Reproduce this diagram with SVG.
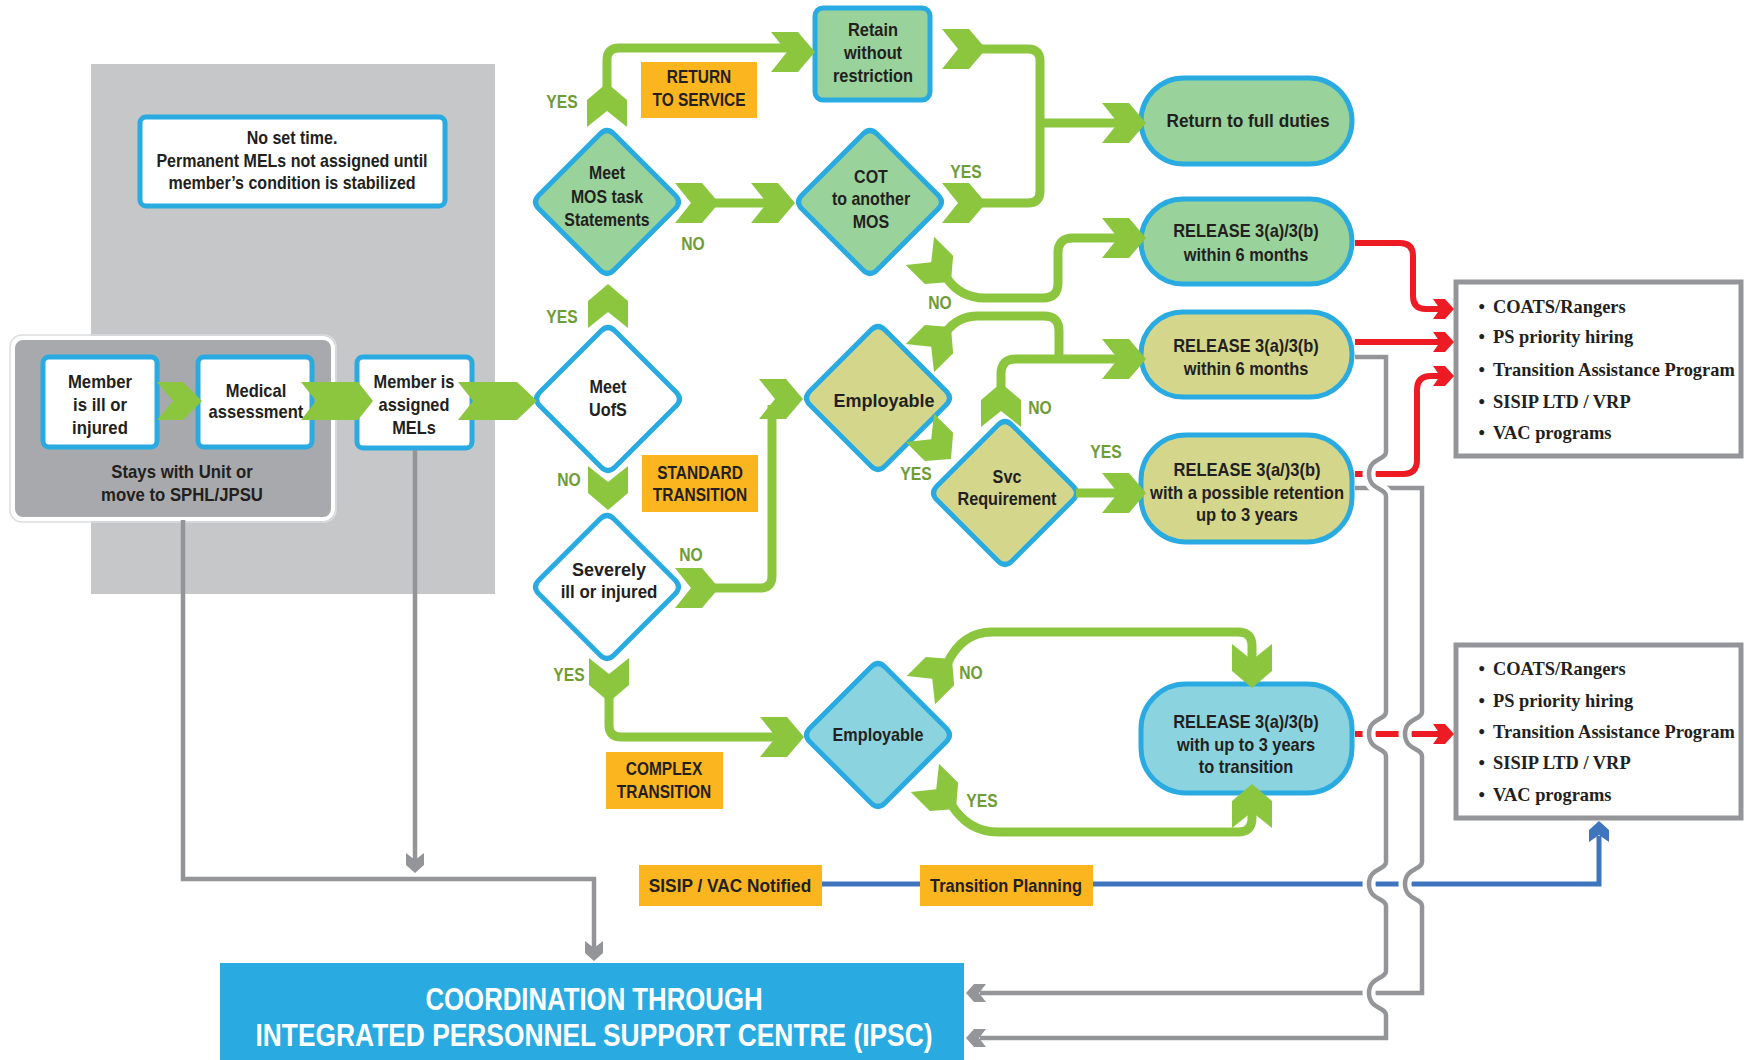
<svg xmlns="http://www.w3.org/2000/svg" width="1744" height="1060" viewBox="0 0 1744 1060">
<defs>
<style>
.bg{fill:#c6c7c9}
.ctr{fill:#a7a9ac;stroke:#fff;stroke-width:4}
.bx{fill:#fff;stroke:#29abe2;stroke-width:5}
.gn{fill:#99d29b;stroke:#29abe2;stroke-width:5}
.ol{fill:#d4d68b;stroke:#29abe2;stroke-width:5}
.lb{fill:#8ad3df;stroke:#29abe2;stroke-width:5}
.wh{fill:#fff;stroke:#29abe2;stroke-width:5}
.or{fill:#fbb51f}
.t{font-family:"Liberation Sans",Arial,sans-serif;font-weight:bold;fill:#231f20;text-anchor:middle;font-size:18px}
.lab{font-family:"Liberation Sans",Arial,sans-serif;font-weight:bold;fill:#6e9c35;font-size:18px;text-anchor:middle}
.ser{font-family:"Liberation Serif","Times New Roman",serif;font-weight:bold;font-size:19px;fill:#231f20}
.ipsc{font-family:"Liberation Sans",Arial,sans-serif;font-weight:bold;fill:#fff;text-anchor:middle;font-size:32px}
.ch{fill:#8cc63f}
.gl{fill:none;stroke:#8cc63f;stroke-width:9}
.gy{fill:none;stroke:#939598;stroke-width:4.5}
.halo{fill:none;stroke:#fff;stroke-width:13}
.rd{fill:none;stroke:#ed1c24;stroke-width:6}
.bl{fill:none;stroke:#3e75bc;stroke-width:5}
.rbox{fill:#fff;stroke:#939598;stroke-width:5}
</style>
<polygon id="chev" points="-44,-20 -17,-20 0,0 -17,20 -44,20 -28,0"/>
<polygon id="sarr" points="-21,-10 -9,-10 0,0 -9,10 -21,10 -14,0"/>
<polygon id="garr" points="-20,-9 -8,-9 0,0 -8,9 -20,9 -13,0"/>
</defs>
<rect width="1744" height="1060" fill="#fff"/>
<rect id="panel" class="bg" x="91" y="64" width="404" height="530"/>

<g id="note">
<rect class="bx" x="140" y="117" width="305" height="89" rx="6"/>
<g transform="translate(292,0) scale(.89,1)">
<text class="t" x="0" y="144" font-size="17.5">No set time.</text>
<text class="t" x="0" y="167" font-size="17.5">Permanent MELs not assigned until</text>
<text class="t" x="0" y="189" font-size="17.5">member’s condition is stabilized</text>
</g>
</g>

<g id="unit-container">
<rect x="10" y="335" width="326" height="187" rx="12" fill="none" stroke="#dcdddf" stroke-width="1.5"/>
<rect class="ctr" x="13" y="338" width="320" height="181" rx="10"/>
<g transform="translate(182,0) scale(.93,1)">
<text class="t" x="0" y="478">Stays with Unit or</text>
<text class="t" x="0" y="501">move to SPHL/JPSU</text>
</g>
</g>

<g id="member-ill">
<rect class="bx" x="43" y="357" width="114" height="90" rx="6"/>
<g transform="translate(100,0) scale(.93,1)">
<text class="t" x="0" y="388">Member</text>
<text class="t" x="0" y="411">is ill  or</text>
<text class="t" x="0" y="434">injured</text>
</g>
</g>

<g id="medical">
<rect class="bx" x="198" y="357" width="114" height="90" rx="6"/>
<g transform="translate(256,0) scale(.92,1)">
<text class="t" x="0" y="397" font-size="21">Medical</text>
<text class="t" x="0" y="418" font-size="17.5">assessment</text>
</g>
</g>

<g id="mels">
<rect class="bx" x="357" y="357" width="115" height="91" rx="6"/>
<g transform="translate(414,0) scale(.91,1)">
<text class="t" x="0" y="388">Member is</text>
<text class="t" x="0" y="411">assigned</text>
<text class="t" x="0" y="434">MELs</text>
</g>
</g>

<g id="meet-uofs">
<path class="wh" d="M601,331 Q608,324 615,331 L676,392 Q683,399 676,406 L615,467 Q608,474 601,467 L540,406 Q533,399 540,392 Z"/>
<g transform="translate(608,0) scale(.9,1)">
<text class="t" x="0" y="393">Meet</text>
<text class="t" x="0" y="416">UofS</text>
</g>
</g>

<g id="meet-mos">
<path class="gn" d="M600,134 Q607,127 614,134 L675,195 Q682,202 675,209 L614,270 Q607,277 600,270 L539,209 Q532,202 539,195 Z"/>
<g transform="translate(607,0) scale(.88,1)">
<text class="t" x="0" y="179">Meet</text>
<text class="t" x="0" y="203">MOS task</text>
<text class="t" x="0" y="226">Statements</text>
</g>
</g>

<g id="cot">
<path class="gn" d="M863,134 Q870,127 877,134 L938,195 Q945,202 938,209 L877,270 Q870,277 863,270 L802,209 Q795,202 802,195 Z"/>
<g transform="translate(871,0) scale(.89,1)">
<text class="t" x="0" y="183" font-size="17.5">COT</text>
<text class="t" x="0" y="205" font-size="17.5">to another</text>
<text class="t" x="0" y="228" font-size="17.5">MOS</text>
</g>
</g>

<g id="retain">
<rect class="gn" x="815" y="8" width="115" height="92" rx="8" stroke-width="6"/>
<g transform="translate(873,0) scale(.91,1)">
<text class="t" x="0" y="36" font-size="17.5">Retain</text>
<text class="t" x="0" y="59" font-size="17.5">without</text>
<text class="t" x="0" y="82" font-size="17.5">restriction</text>
</g>
</g>

<g id="return-to-service">
<rect class="or" x="641" y="62" width="116" height="56"/>
<g transform="translate(699,0) scale(.86,1)">
<text class="t" x="0" y="83" font-size="17.5">RETURN</text>
<text class="t" x="0" y="106" font-size="17.5">TO SERVICE</text>
</g>
</g>

<g id="severely">
<path class="wh" d="M600,519 Q607,512 614,519 L675,580 Q682,587 675,594 L614,655 Q607,662 600,655 L539,594 Q532,587 539,580 Z"/>
<text class="t" x="609" y="576" font-size="19">Severely</text>
<text class="t" transform="translate(609,598) scale(.94,1)" x="0" y="0">ill or injured</text>
</g>

<g id="standard-transition">
<rect class="or" x="642" y="455" width="116" height="57"/>
<g transform="translate(700,0) scale(.86,1)">
<text class="t" x="0" y="479" font-size="17.5">STANDARD</text>
<text class="t" x="0" y="501" font-size="17.5">TRANSITION</text>
</g>
</g>

<g id="employable-std">
<path class="ol" d="M871,330 Q878,323 885,330 L946,391 Q953,398 946,405 L885,466 Q878,473 871,466 L810,405 Q803,398 810,391 Z"/>
<text class="t" x="884" y="407" font-size="22">Employable</text>
</g>

<g id="svc-requirement">
<path class="ol" d="M998,425 Q1005,418 1012,425 L1073,486 Q1080,493 1073,500 L1012,561 Q1005,568 998,561 L937,500 Q930,493 937,486 Z"/>
<g transform="translate(1007,0) scale(.9,1)">
<text class="t" x="0" y="483" font-size="18.5">Svc</text>
<text class="t" x="0" y="505" font-size="18.5">Requirement</text>
</g>
</g>

<g id="employable-complex">
<path class="lb" d="M871,667 Q878,660 885,667 L946,728 Q953,735 946,742 L885,803 Q878,810 871,803 L810,742 Q803,735 810,728 Z"/>
<text class="t" transform="translate(878,741) scale(.9,1)" x="0" y="0">Employable</text>
</g>

<g id="complex-transition">
<rect class="or" x="606" y="752" width="117" height="57"/>
<g transform="translate(664,0) scale(.86,1)">
<text class="t" x="0" y="775" font-size="17.5">COMPLEX</text>
<text class="t" x="0" y="798" font-size="17.5">TRANSITION</text>
</g>
</g>

<g id="return-full-duties">
<rect class="gn" x="1141" y="78" width="211" height="86" rx="43"/>
<text class="t" transform="translate(1248,127) scale(.96,1)" x="0" y="0">Return to full duties</text>
</g>

<g id="release-6m-a">
<rect class="gn" x="1141" y="199" width="211" height="85" rx="42"/>
<g transform="translate(1246,0) scale(.91,1)">
<text class="t" x="0" y="237">RELEASE 3(a)/3(b)</text>
<text class="t" x="0" y="261">within 6 months</text>
</g>
</g>

<g id="release-6m-b">
<rect class="ol" x="1141" y="312" width="211" height="85" rx="42"/>
<g transform="translate(1246,0) scale(.91,1)">
<text class="t" x="0" y="352">RELEASE 3(a)/3(b)</text>
<text class="t" x="0" y="375">within 6 months</text>
</g>
</g>

<g id="release-retention">
<rect class="ol" x="1141" y="435" width="211" height="107" rx="45"/>
<g transform="translate(1247,0) scale(.92,1)">
<text class="t" x="0" y="476">RELEASE 3(a/)3(b)</text>
<text class="t" x="0" y="499">with a possible retention</text>
<text class="t" x="0" y="521">up to 3 years</text>
</g>
</g>

<g id="release-3y">
<rect class="lb" x="1141" y="684" width="211" height="109" rx="45"/>
<g transform="translate(1246,0) scale(.91,1)">
<text class="t" x="0" y="728">RELEASE 3(a)/3(b)</text>
<text class="t" x="0" y="751">with up to 3 years</text>
<text class="t" x="0" y="773">to transition</text>
</g>
</g>

<g id="programs-1">
<rect class="rbox" x="1456" y="282" width="285" height="174"/>
<g transform="translate(1493,0) scale(.97,1)">
<text class="ser" y="313"><tspan x="-15">•</tspan><tspan x="0">COATS/Rangers</tspan></text>
<text class="ser" y="343"><tspan x="-15">•</tspan><tspan x="0">PS priority hiring</tspan></text>
<text class="ser" y="376"><tspan x="-15">•</tspan><tspan x="0">Transition Assistance Program</tspan></text>
<text class="ser" y="408"><tspan x="-15">•</tspan><tspan x="0">SISIP  LTD / VRP</tspan></text>
<text class="ser" y="439"><tspan x="-15">•</tspan><tspan x="0">VAC programs</tspan></text>
</g>
</g>

<g id="programs-2">
<rect class="rbox" x="1456" y="645" width="285" height="173"/>
<g transform="translate(1493,0) scale(.97,1)">
<text class="ser" y="675"><tspan x="-15">•</tspan><tspan x="0">COATS/Rangers</tspan></text>
<text class="ser" y="707"><tspan x="-15">•</tspan><tspan x="0">PS priority hiring</tspan></text>
<text class="ser" y="738"><tspan x="-15">•</tspan><tspan x="0">Transition Assistance Program</tspan></text>
<text class="ser" y="769"><tspan x="-15">•</tspan><tspan x="0">SISIP  LTD / VRP</tspan></text>
<text class="ser" y="801"><tspan x="-15">•</tspan><tspan x="0">VAC programs</tspan></text>
</g>
</g>

<g id="sisip-vac">
<rect class="or" x="639" y="865" width="183" height="41"/>
<text class="t" transform="translate(730,892) scale(.96,1)" x="0" y="0" font-size="19">SISIP / VAC Notified</text>
</g>

<g id="transition-planning">
<rect class="or" x="920" y="865" width="173" height="41"/>
<text class="t" transform="translate(1006,892) scale(.91,1)" x="0" y="0">Transition Planning</text>
</g>

<g id="ipsc">
<rect x="220" y="963" width="744" height="97" fill="#29abe2"/>
<text class="ipsc" x="594" y="1010" textLength="337" lengthAdjust="spacingAndGlyphs">COORDINATION THROUGH</text>
<text class="ipsc" x="594" y="1046" textLength="677" lengthAdjust="spacingAndGlyphs">INTEGRATED PERSONNEL SUPPORT CENTRE (IPSC)</text>
</g>

<g id="connectors">
<path class="gy" d="M183,520 V879 H594 V948"/>
<use href="#garr" fill="#939598" transform="translate(594,961) rotate(90)"/>
<path class="gy" d="M415,450 V860"/>
<use href="#garr" fill="#939598" transform="translate(415,873) rotate(90)"/>

<path class="rd" d="M1355,243 H1400 Q1413,243 1413,256 V296 Q1413,309 1426,309 H1440"/>
<use href="#sarr" fill="#ed1c24" transform="translate(1454,309)"/>
<path class="rd" d="M1355,342 H1440"/>
<use href="#sarr" fill="#ed1c24" transform="translate(1454,342)"/>
<path class="rd" d="M1355,474 H1403 Q1417,474 1417,460 V390 Q1417,376 1431,376 H1440"/>
<use href="#sarr" fill="#ed1c24" transform="translate(1454,376)"/>
<path class="rd" d="M1355,734 H1440"/>
<use href="#sarr" fill="#ed1c24" transform="translate(1454,734)"/>
<path class="bl" d="M822,884 H920 M1093,884 H1599 V836"/>
<use href="#sarr" fill="#3e75bc" transform="translate(1599,821) rotate(-90)"/>

<path class="halo" d="M1355,488 H1422 V712 C1422,720 1405,718 1405,734 C1405,750 1422,748 1422,756 V862 C1422,870 1405,868 1405,884 C1405,900 1422,898 1422,906 V993 H980"/>
<path class="gy" d="M1355,488 H1422 V712 C1422,720 1405,718 1405,734 C1405,750 1422,748 1422,756 V862 C1422,870 1405,868 1405,884 C1405,900 1422,898 1422,906 V993 H980"/>
<use href="#garr" fill="#939598" transform="translate(966,993) rotate(180)"/>
<path class="halo" d="M1355,357 H1386 V452 C1386,460 1369,458 1369,474 C1369,490 1386,488 1386,496 V712 C1386,720 1369,718 1369,734 C1369,750 1386,748 1386,756 V862 C1386,870 1369,868 1369,884 C1369,900 1386,898 1386,906 V971 C1386,979 1369,977 1369,993 C1369,1009 1386,1007 1386,1015 V1038 H980"/>
<path class="gy" d="M1355,357 H1386 V452 C1386,460 1369,458 1369,474 C1369,490 1386,488 1386,496 V712 C1386,720 1369,718 1369,734 C1369,750 1386,748 1386,756 V862 C1386,870 1369,868 1369,884 C1369,900 1386,898 1386,906 V971 C1386,979 1369,977 1369,993 C1369,1009 1386,1007 1386,1015 V1038 H980"/>
<use href="#garr" fill="#939598" transform="translate(966,1038) rotate(180)"/>

<path class="gl" d="M607,88 V60 Q607,48 619,48 H793"/>
<path class="gl" d="M713,203 H773"/>
<path class="gl" d="M980,49 H1028 Q1040,49 1040,61 V191 Q1040,203 1028,203 H980 M1040,123 H1124"/>
<path class="gl" d="M946,277 Q960,298 985,298 H1043 Q1058,298 1058,283 V253 Q1058,238 1073,238 H1124"/>
<path class="gl" d="M946,332 Q958,316 978,316 H1044 Q1059,316 1059,331 V362"/>
<path class="gl" d="M1001,390 V374 Q1001,359 1016,359 H1124"/>
<path class="gl" d="M1076,493 H1124"/>
<path class="gl" d="M713,588 H760 Q772,588 772,576 V405"/>
<path class="gl" d="M609,696 V725 Q609,737 621,737 H782"/>
<path class="gl" d="M947,664 Q962,632 992,632 H1238 Q1252,632 1252,646 V660"/>
<path class="gl" d="M951,804 Q968,832 998,832 H1238 Q1252,832 1252,818 V812"/>

<polygon class="ch" points="157,382 183,382 202,401 183,420 157,420 173,401"/>
<polygon class="ch" points="301,382 358,382 373,401 358,420 301,420 316,401"/>
<polygon class="ch" points="458,382 517,382 537,401 517,420 458,420 473,401"/>
<use href="#chev" class="ch" transform="translate(608,284) rotate(-90)"/>
<use href="#chev" class="ch" transform="translate(608,510) rotate(90)"/>
<use href="#chev" class="ch" transform="translate(607,83) rotate(-90)"/>
<use href="#chev" class="ch" transform="translate(815,52)"/>
<use href="#chev" class="ch" transform="translate(719,203)"/>
<use href="#chev" class="ch" transform="translate(795,203)"/>
<use href="#chev" class="ch" transform="translate(986,49)"/>
<use href="#chev" class="ch" transform="translate(986,203)"/>
<use href="#chev" class="ch" transform="translate(1146,123)"/>
<use href="#chev" class="ch" transform="translate(951,282) rotate(45)"/>
<use href="#chev" class="ch" transform="translate(1146,238)"/>
<use href="#chev" class="ch" transform="translate(951,327) rotate(-45)"/>
<use href="#chev" class="ch" transform="translate(1001,383) rotate(-90)"/>
<use href="#chev" class="ch" transform="translate(1146,359)"/>
<use href="#chev" class="ch" transform="translate(951,459) rotate(45)"/>
<use href="#chev" class="ch" transform="translate(1146,493)"/>
<use href="#chev" class="ch" transform="translate(719,588)"/>
<use href="#chev" class="ch" transform="translate(803,399)"/>
<use href="#chev" class="ch" transform="translate(609,702) rotate(90)"/>
<use href="#chev" class="ch" transform="translate(804,737)"/>
<use href="#chev" class="ch" transform="translate(952,659) rotate(-45)"/>
<use href="#chev" class="ch" transform="translate(1252,688) rotate(90)"/>
<use href="#chev" class="ch" transform="translate(956,809) rotate(45)"/>
<use href="#chev" class="ch" transform="translate(1252,784) rotate(-90)"/>

<text class="lab" transform="translate(562,108) scale(.87,1)">YES</text>
<text class="lab" transform="translate(693,250) scale(.87,1)">NO</text>
<text class="lab" transform="translate(966,178) scale(.87,1)">YES</text>
<text class="lab" transform="translate(562,323) scale(.87,1)">YES</text>
<text class="lab" transform="translate(940,309) scale(.87,1)">NO</text>
<text class="lab" transform="translate(1040,414) scale(.87,1)">NO</text>
<text class="lab" transform="translate(916,480) scale(.87,1)">YES</text>
<text class="lab" transform="translate(1106,458) scale(.87,1)">YES</text>
<text class="lab" transform="translate(569,486) scale(.87,1)">NO</text>
<text class="lab" transform="translate(691,561) scale(.87,1)">NO</text>
<text class="lab" transform="translate(569,681) scale(.87,1)">YES</text>
<text class="lab" transform="translate(971,679) scale(.87,1)">NO</text>
<text class="lab" transform="translate(982,807) scale(.87,1)">YES</text>
</g>
</svg>
